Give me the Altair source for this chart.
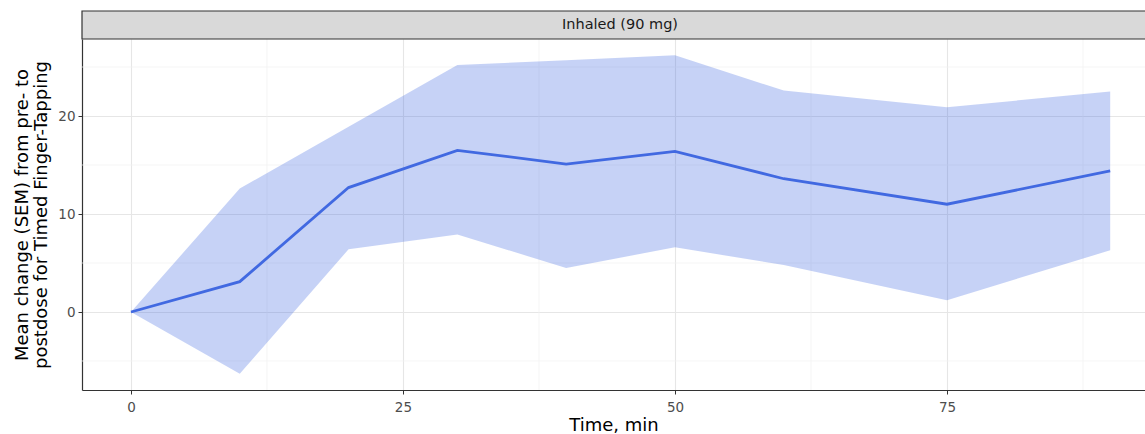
import altair as alt
import pandas as pd

time_min = [0, 10, 20, 30, 40, 50, 60, 75, 90]
mean_change = [0.0, 3.1, 12.7, 16.5, 15.1, 16.4, 13.6, 11.0, 14.4]
upper = [0.0, 12.6, 18.9, 25.2, 25.7, 26.2, 22.6, 20.9, 22.5]
lower = [0.0, -6.3, 6.4, 7.9, 4.5, 6.6, 4.8, 1.2, 6.3]

x_major = [0, 25, 50, 75]
x_minor = [12.5, 37.5, 62.5, 87.5]
y_major = [0, 10, 20]
y_minor = [-5, 5, 15, 25]

panel_label = "Inhaled (90 mg)"
x_title = "Time, min"
y_title = ["Mean change (SEM) from pre- to", "postdose for Timed Finger-Tapping"]

FONT = "DejaVu Sans"
LINE_COLOR = "#4169E1"

df = pd.DataFrame({"t": time_min, "m": mean_change, "lo": lower, "hi": upper})
xminor_df = pd.DataFrame({"v": x_minor})
yminor_df = pd.DataFrame({"v": y_minor})

xs = alt.Scale(domain=[-4.5, 93.2], nice=False, zero=False)
ys = alt.Scale(domain=[-7.96, 27.86], nice=False, zero=False)

x_axis = alt.Axis(values=x_major, title=x_title, grid=True, gridColor="#e6e6e6", gridWidth=1.1,
                  domainColor="#333333", domainWidth=1.2, tickColor="#333333", tickSize=4,
                  labelColor="#4d4d4d", labelFontSize=13.5, labelFont=FONT, labelPadding=6,
                  titleFont=FONT, titleFontSize=18, titleColor="#000000", titleFontWeight="normal",
                  titlePadding=3)
y_axis = alt.Axis(values=y_major, title=y_title, grid=True, gridColor="#e6e6e6", gridWidth=1.1,
                  domainColor="#333333", domainWidth=1.2, tickColor="#333333", tickSize=4,
                  labelColor="#4d4d4d", labelFontSize=13.5, labelFont=FONT, labelPadding=3,
                  titleFont=FONT, titleFontSize=18, titleColor="#000000", titleFontWeight="normal",
                  titlePadding=7, titleLineHeight=19)

minor_x = alt.Chart(xminor_df).mark_rule(color="#f0f0f0", strokeWidth=0.7).encode(
    x=alt.X("v:Q", scale=xs, axis=x_axis))
minor_y = alt.Chart(yminor_df).mark_rule(color="#f0f0f0", strokeWidth=0.7).encode(
    y=alt.Y("v:Q", scale=ys, axis=y_axis))

band = alt.Chart(df).mark_area(color=LINE_COLOR, opacity=0.3).encode(
    x=alt.X("t:Q", scale=xs, axis=x_axis),
    y=alt.Y("lo:Q", scale=ys, axis=y_axis),
    y2="hi:Q")

line = alt.Chart(df).mark_line(color=LINE_COLOR, strokeWidth=2.8).encode(
    x=alt.X("t:Q", scale=xs, axis=x_axis),
    y=alt.Y("m:Q", scale=ys, axis=y_axis))

strip = alt.Chart(pd.DataFrame({"lab": [panel_label]})).mark_rect(
    fill="#d9d9d9", stroke="#333333", strokeWidth=1.2, clip=False).encode(
    x=alt.value(0), x2=alt.value(1075), y=alt.value(-28), y2=alt.value(0))

strip_text = alt.Chart(pd.DataFrame({"lab": [panel_label]})).mark_text(
    font=FONT, fontSize=14.5, color="#1a1a1a", baseline="middle", align="center").encode(
    x=alt.value(538), y=alt.value(-14), text="lab:N")

chart = alt.layer(minor_x, minor_y, band, line, strip, strip_text).properties(
    width=1063, height=351,
    padding={"left": 82, "top": 39, "right": 0, "bottom": 44},
    autosize="none",
    background="white",
).configure_view(stroke=None)

chart.save("out.html", embed_options={"renderer": "svg", "actions": False})
